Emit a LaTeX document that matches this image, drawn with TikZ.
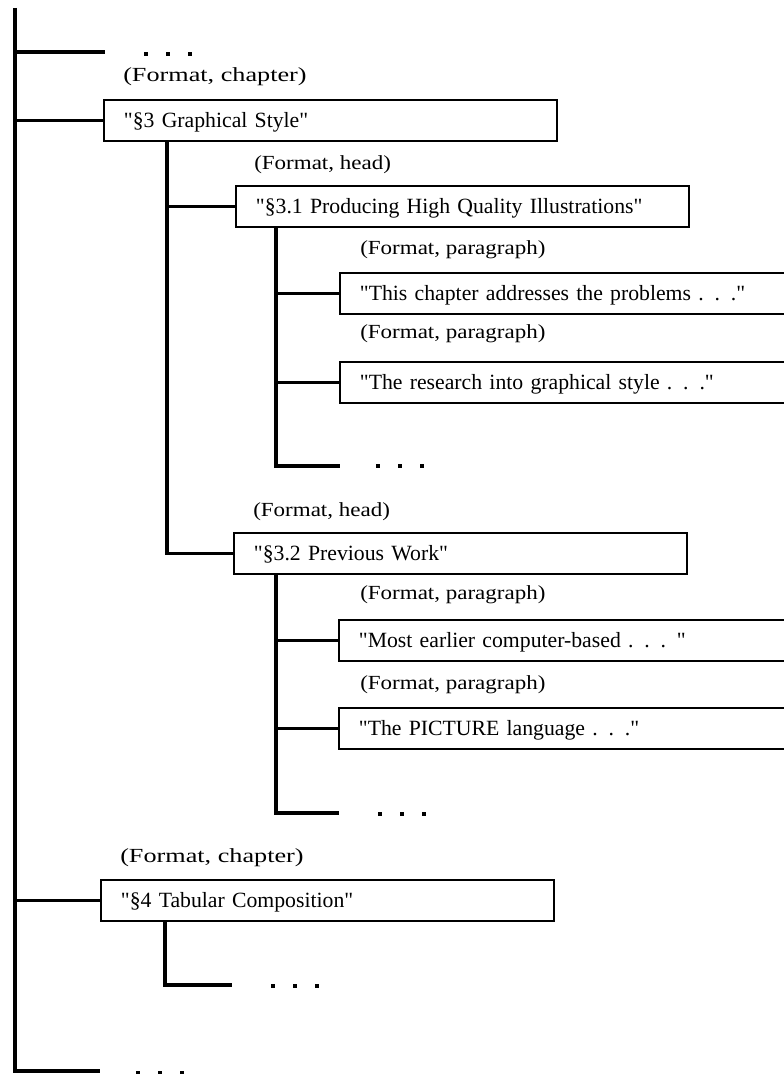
\documentclass[tikz,border=0pt]{standalone}
\usepackage{fontspec}
\setmainfont{Liberation Serif}[FakeStretch=1.0, Ligatures=TeXOff]
\newfontfamily\lblfam{Liberation Serif}[FakeStretch=1.15, Ligatures=TeXOff]
\newfontfamily\chpfam{Liberation Serif}[FakeStretch=1.31, Ligatures=TeXOff]
\newcommand\bxfnt{\fontsize{16.3pt}{19pt}\selectfont}
\newcommand\lbfnt{\lblfam\fontsize{15pt}{18pt}\selectfont}
\newcommand\chfnt{\chpfam\fontsize{15pt}{18pt}\selectfont}
\usetikzlibrary{calc}
\begin{document}
\begin{tikzpicture}[x=0.75pt,y=-0.75pt,
  conn/.style={line width=2.4pt, line join=miter},
  mainline/.style={line width=2.8pt, line join=miter},
  box/.style={draw, line width=1.4pt, anchor=north west, inner xsep=15pt, inner ysep=0pt,
    minimum height=31pt, text width=309.75pt, align=left, text height=12.5pt, text depth=2.5pt, font=\bxfnt},
  para/.style={box, text width=315.75pt},
  lbl/.style={anchor=west, inner sep=0pt, font=\lbfnt},
  chlbl/.style={lbl, font=\chfnt}]
\useasboundingbox (0,0) rectangle (784,1074);
\fill[white] (0,0) rectangle (784,1074);
\clip (0,0) rectangle (784,1074);

% labels and boxes
\node[chlbl] (l1) at (123,77) {(Format, chapter)};
\node[box] (b3) at (103,99) {"§3 Graphical Style"};
\node[lbl] (l2) at (254,165) {(Format, head)};
\node[box] (b31) at (235,185) {"§3.1 Producing High Quality Illustrations"};
\node[lbl] (l3) at (360,250) {(Format, paragraph)};
\node[para] (p1) at (339,272) {"This chapter addresses the problems . . ."};
\node[lbl] (l4) at (360,334) {(Format, paragraph)};
\node[para] (p2) at (339,361) {"The research into graphical style . . ."};
\node[lbl] (l5) at (253,512) {(Format, head)};
\node[box] (b32) at (233,532) {"§3.2 Previous Work"};
\node[lbl] (l6) at (360,595) {(Format, paragraph)};
\node[para] (p3) at (338,619) {"Most earlier computer-based . . . "};
\node[lbl] (l7) at (360,685) {(Format, paragraph)};
\node[para] (p4) at (338,707) {"The PICTURE language . . ."};
\node[chlbl] (l8) at (120,858) {(Format, chapter)};
\node[box] (b4) at (100,879) {"§4 Tabular Composition"};

% coordinates
\coordinate (top) at (15,8);
\coordinate (bot) at (15,1071);
\coordinate (botend) at (100,1071);
\coordinate (e1) at (105,52);
\coordinate (v3) at ($(b3.south west)+(64,0)$);
\coordinate (v31) at ($(b31.south west)+(41,0)$);
\coordinate (e31) at (340,466);
\coordinate (v32) at ($(b32.south west)+(43,0)$);
\coordinate (e32) at (339,813);
\coordinate (v4) at ($(b4.south west)+(65,0)$);
\coordinate (e4) at (232,985);

% connectors
\draw[mainline] (top) -- (bot) -- (botend);
\draw[conn] (top |- e1) -- (e1);
\draw[conn] (top |- b3.west) -- (b3.west);
\draw[conn] (top |- b4.west) -- (b4.west);
\draw[conn] (v3) |- (b32.west);
\draw[conn] (v3 |- b31.west) -- (b31.west);
\draw[conn] (v31) |- (e31);
\draw[conn] (v31 |- p1.west) -- (p1.west);
\draw[conn] (v31 |- p2.west) -- (p2.west);
\draw[conn] (v32) |- (e32);
\draw[conn] (v32 |- p3.west) -- (p3.west);
\draw[conn] (v32 |- p4.west) -- (p4.west);
\draw[conn] (v4) |- (e4);

% ellipsis dots
\coordinate (d1) at (168,54);
\coordinate (d31) at (400,466);
\coordinate (d32) at (402,814);
\coordinate (d4) at (295,986);
\coordinate (d5) at (160,1073);
\foreach \d in {d1,d31,d32,d4,d5}{
  \foreach \dx in {-22,0,22}{
    \fill ($(\d)+(\dx-2,-2)$) rectangle ++(4,4);
  }
}
\end{tikzpicture}
\end{document}
